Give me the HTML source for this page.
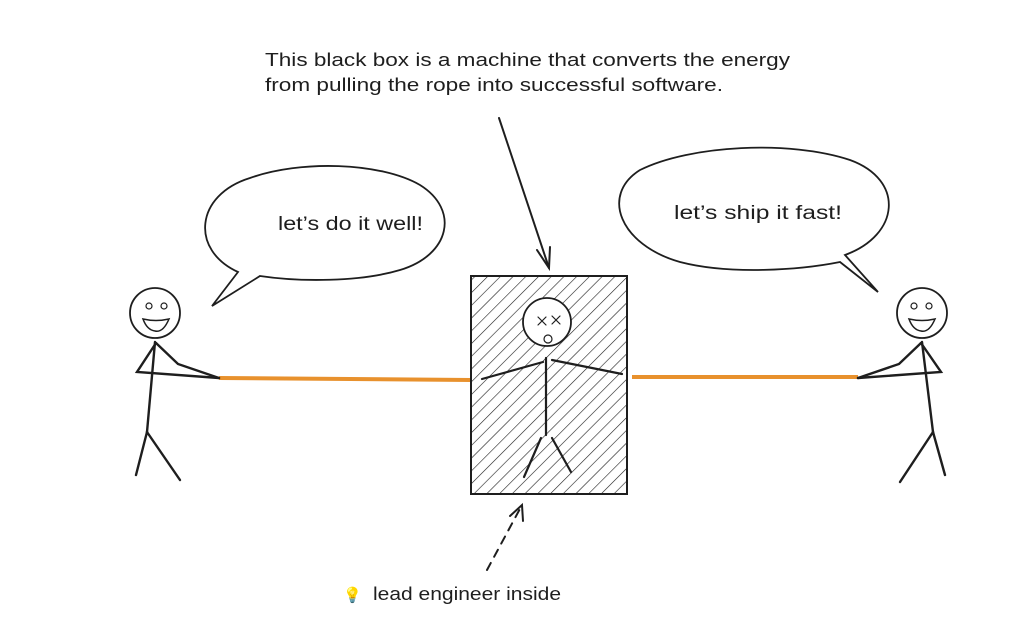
<!DOCTYPE html>
<html><head><meta charset="utf-8"><style>
html,body{margin:0;padding:0;background:#fff;width:1024px;height:630px;overflow:hidden}
svg{display:block}
text{font-family:"Liberation Sans",sans-serif;fill:#1e1e1e}
</style></head><body>
<svg width="1024" height="630" viewBox="0 0 1024 630">
<defs>
<pattern id="h" patternUnits="userSpaceOnUse" width="9" height="9" patternTransform="rotate(45)">
<line x1="0" y1="0" x2="0" y2="9" stroke="#1e1e1e" stroke-width="1.2"/>
</pattern>
</defs>
<text x="265" y="66" font-size="18" textLength="525" lengthAdjust="spacingAndGlyphs">This black box is a machine that converts the energy</text>
<text x="265" y="91" font-size="18" textLength="458" lengthAdjust="spacingAndGlyphs">from pulling the rope into successful software.</text>
<g stroke="#1e1e1e" stroke-width="2" fill="none" stroke-linecap="round">
<line x1="499" y1="118" x2="549" y2="268"/>
<polyline points="537,250 549,268 550,247"/>
</g>
<path d="M238,272 C190,250 195,195 250,178 C300,160 380,162 420,185 C460,210 450,255 400,270 C360,282 300,282 260,276 L212,306 Z" fill="#fff" stroke="#1e1e1e" stroke-width="1.8"/>
<text x="278" y="230" font-size="19" textLength="145" lengthAdjust="spacingAndGlyphs">let’s do it well!</text>
<path d="M845,255 C900,235 905,180 850,160 C790,140 690,145 640,170 C600,195 620,245 680,262 C730,275 800,270 840,262 L878,292 Z" fill="#fff" stroke="#1e1e1e" stroke-width="1.8"/>
<text x="674" y="219" font-size="19" textLength="168" lengthAdjust="spacingAndGlyphs">let’s ship it fast!</text>
<line x1="219" y1="378" x2="471" y2="380" stroke="#e8912d" stroke-width="4"/>
<line x1="632" y1="377" x2="858" y2="377" stroke="#e8912d" stroke-width="4"/>
<rect x="471" y="276" width="156" height="218" fill="url(#h)" stroke="#1e1e1e" stroke-width="2"/>
<g stroke="#1e1e1e" stroke-width="2.2" fill="none" stroke-linecap="round">
<circle cx="547" cy="322" r="24" fill="#fff" stroke-width="1.8"/>
<path d="M538,317 l8,8 M546,317 l-8,8 M552,316 l8,8 M560,316 l-8,8" stroke-width="1.2"/>
<circle cx="548" cy="339" r="4" stroke-width="1.2"/>
<line x1="546" y1="358" x2="546" y2="435"/>
<line x1="543" y1="362" x2="482" y2="379"/>
<line x1="552" y1="360" x2="622" y2="374"/>
<line x1="541" y1="438" x2="524" y2="477"/>
<line x1="552" y1="438" x2="571" y2="472"/>
</g>
<g stroke="#1e1e1e" stroke-width="2.4" fill="none" stroke-linecap="round">
<circle cx="155" cy="313" r="25" stroke-width="1.8"/>
<line x1="155" y1="342" x2="147" y2="432"/>
<polyline points="156,343 137,372 219,378"/>
<polyline points="156,343 178,364 219,378"/>
<line x1="147" y1="432" x2="136" y2="475"/>
<line x1="147" y1="432" x2="180" y2="480"/>
</g>
<circle cx="149" cy="306" r="3" fill="none" stroke="#1e1e1e" stroke-width="1.2"/>
<circle cx="164" cy="306" r="3" fill="none" stroke="#1e1e1e" stroke-width="1.2"/>
<path d="M143,319 Q156,322 169,319 Q163,333 155,331 Q147,330 143,319Z" fill="none" stroke="#1e1e1e" stroke-width="1.5"/>
<g stroke="#1e1e1e" stroke-width="2.4" fill="none" stroke-linecap="round">
<circle cx="922" cy="313" r="25" stroke-width="1.8"/>
<line x1="922" y1="342" x2="933" y2="432"/>
<polyline points="921,343 941,372 858,378"/>
<polyline points="921,343 899,364 858,378"/>
<line x1="933" y1="432" x2="945" y2="475"/>
<line x1="933" y1="432" x2="900" y2="482"/>
</g>
<circle cx="914" cy="306" r="3" fill="none" stroke="#1e1e1e" stroke-width="1.2"/>
<circle cx="929" cy="306" r="3" fill="none" stroke="#1e1e1e" stroke-width="1.2"/>
<path d="M909,319 Q922,322 935,319 Q929,333 921,331 Q913,330 909,319Z" fill="none" stroke="#1e1e1e" stroke-width="1.5"/>
<g stroke="#1e1e1e" stroke-width="2" fill="none" stroke-linecap="round">
<line x1="487" y1="570" x2="522" y2="505" stroke-dasharray="8,7"/>
<polyline points="510,516 522,505 523,521"/>
</g>
<text x="343" y="600" font-size="15">💡</text>
<text x="373" y="600" font-size="18" textLength="188" lengthAdjust="spacingAndGlyphs">lead engineer inside</text>
</svg>
</body></html>
